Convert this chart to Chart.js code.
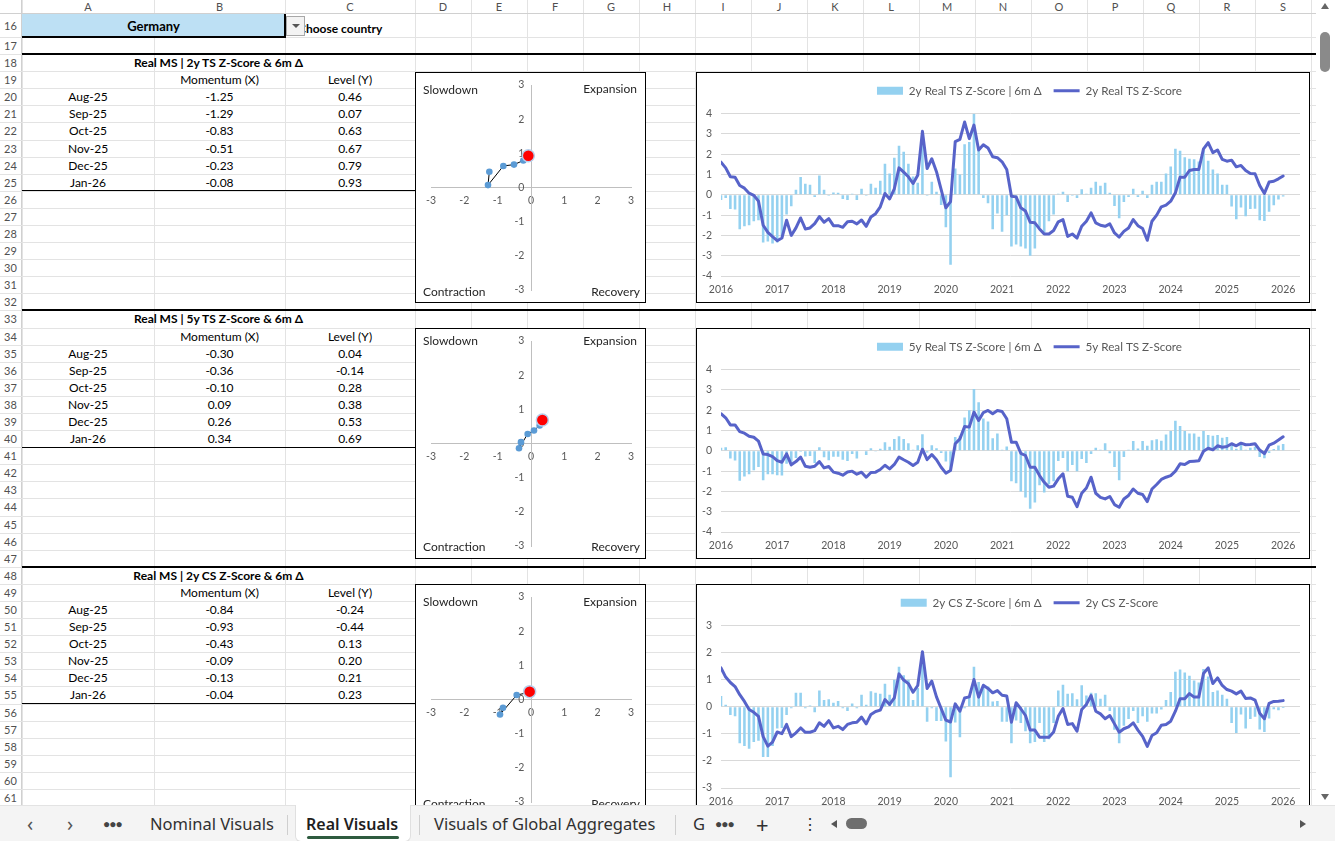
<!DOCTYPE html>
<html>
<head>
<meta charset="utf-8">
<title>Real Visuals</title>
<script src="https://cdn.jsdelivr.net/npm/chart.js@4.4.1/dist/chart.umd.min.js"></script>
<style>
  html, body { margin: 0; padding: 0; }
  body { width: 1335px; height: 841px; overflow: hidden; position: relative; background: #fff;
         font-family: Lato, "Liberation Sans", sans-serif; color: #000; }
  .a { position: absolute; box-sizing: border-box; white-space: nowrap; }
  .chartbox { position: absolute; box-sizing: border-box; border: 1px solid #000; background: #fff; z-index: 3; }
  .inner { position: relative; width: 100%; height: 100%; }
  .quad { position: absolute; font-size: 12px; line-height: 16px; color: #262626; white-space: nowrap; }
  #tabs { position: absolute; left: 0; top: 805px; width: 1335px; height: 36px; background: #f4f4f4;
          border-top: 1px solid #e3e3e3; z-index: 10; font-family: "Noto Sans", sans-serif; color: #303030; }
  #tabs .t { position: absolute; top: 0; height: 36px; line-height: 36px; font-size: 16.5px; white-space: nowrap; }
  #tabs .sep { position: absolute; top: 9px; width: 1px; height: 20px; background: #cfcfcf; }
  #vscroll { position: absolute; left: 1316px; top: 0; width: 19px; height: 805px; background: #fff; z-index: 9; }
</style>
</head>
<body>
<div id="sheet"></div>

<div class="chartbox" style="left:415px;top:72px;width:231px;height:231px"><div class="inner">
  <canvas id="quad1"></canvas>
  <div class="quad" style="left:7px;top:9px">Slowdown</div>
  <div class="quad" style="right:8px;top:8px">Expansion</div>
  <div class="quad" style="left:7px;top:211px">Contraction</div>
  <div class="quad" style="right:5px;top:211px">Recovery</div>
</div></div>
<div class="chartbox" style="left:696px;top:72px;width:614px;height:231px"><div class="inner"><canvas id="ts2y"></canvas></div></div>

<div class="chartbox" style="left:415px;top:328px;width:231px;height:231px"><div class="inner">
  <canvas id="quad2"></canvas>
  <div class="quad" style="left:7px;top:4px">Slowdown</div>
  <div class="quad" style="right:8px;top:4px">Expansion</div>
  <div class="quad" style="left:7px;top:210px">Contraction</div>
  <div class="quad" style="right:5px;top:210px">Recovery</div>
</div></div>
<div class="chartbox" style="left:696px;top:328px;width:614px;height:231px"><div class="inner"><canvas id="ts5y"></canvas></div></div>

<div class="chartbox" style="left:415px;top:584px;width:231px;height:231px"><div class="inner">
  <canvas id="quad3"></canvas>
  <div class="quad" style="left:7px;top:9px">Slowdown</div>
  <div class="quad" style="right:8px;top:9px">Expansion</div>
  <div class="quad" style="left:7px;top:211px">Contraction</div>
  <div class="quad" style="right:5px;top:211px">Recovery</div>
</div></div>
<div class="chartbox" style="left:696px;top:584px;width:614px;height:231px"><div class="inner"><canvas id="cs2y"></canvas></div></div>

<div id="vscroll">
  <div class="a" style="left:5px;top:3px;width:0;height:0;border-left:4px solid transparent;border-right:4px solid transparent;border-bottom:6px solid #666"></div>
  <div class="a" style="left:4px;top:32px;width:10px;height:40px;border-radius:5px;background:#8a8a8a"></div>
  <div class="a" style="left:5px;top:794px;width:0;height:0;border-left:4px solid transparent;border-right:4px solid transparent;border-top:6px solid #666"></div>
</div>

<div id="tabs">
  <div class="t" style="left:27px;font-size:20px;color:#555">&lsaquo;</div>
  <div class="t" style="left:67px;font-size:20px;color:#555">&rsaquo;</div>
  <div class="t" style="left:103px;font-size:12px;letter-spacing:-1px;color:#444">&#9679;&#9679;&#9679;</div>
  <div class="t" style="left:150px">Nominal Visuals</div>
  <div class="sep" style="left:287px"></div>
  <div class="a" style="left:295px;top:-1px;width:116px;height:37px;background:#fff;border:1px solid #e0e0e0;border-top:none;border-radius:0 0 6px 6px"></div>
  <div class="t" style="left:306px;font-weight:600;font-size:16px;color:#1f1f1f">Real Visuals</div>
  <div class="a" style="left:307px;top:30px;width:92px;height:3px;background:#2e5b3f;border-radius:2px"></div>
  <div class="sep" style="left:419px"></div>
  <div class="t" style="left:434px">Visuals of Global Aggregates</div>
  <div class="sep" style="left:675px"></div>
  <div class="t" style="left:693px">G</div>
  <div class="t" style="left:715px;font-size:12px;letter-spacing:-1px;color:#444">&#9679;&#9679;&#9679;</div>
  <div class="t" style="left:756px;font-size:22px">+</div>
  <div class="t" style="left:802px;font-size:16px">&#8942;</div>
  <div class="a" style="left:831px;top:14px;width:0;height:0;border-top:4px solid transparent;border-bottom:4px solid transparent;border-right:6px solid #555"></div>
  <div class="a" style="left:846px;top:12px;width:21px;height:11px;border-radius:6px;background:#6e6e6e"></div>
  <div class="a" style="left:1300px;top:14px;width:0;height:0;border-top:4px solid transparent;border-bottom:4px solid transparent;border-left:6px solid #555"></div>
</div>

<script>
// ---- data ----
const monthNames = ['Jan','Feb','Mar','Apr','May','Jun','Jul','Aug','Sep','Oct','Nov','Dec'];
const categories = [];
for (let y = 2016; y <= 2026; y++) {
  for (let m = 0; m < 12 && categories.length < 121; m++) categories.push(monthNames[m] + '-' + String(y).slice(2));
}

// 2y real TS z-score (line) and its 6m change (bars), Jan-16 .. Jan-26
const ts2Level = [
  1.61, 1.33, 0.89, 0.87, 0.46, 0.33, 0.08, -0.02, -0.31, -1.5,
  -1.85, -2.06, -2.26, -2.13, -1.25, -2.0, -1.63, -1.14, -1.68, -1.63,
  -1.42, -1.07, -1.35, -1.17, -1.52, -1.52, -1.6, -1.33, -1.3, -1.43,
  -1.24, -1.55, -1.09, -0.93, -0.59, 0.07, -0.2, 0.3, 1.33, 1.12,
  0.89, 0.56, 0.96, 3.13, 1.3, 1.78, 1.14, 0.26, -0.64, -0.33,
  2.62, 2.73, 3.59, 2.77, 3.44, 2.21, 2.47, 2.31, 1.88, 1.83,
  1.63, 1.25, -0.07, -0.1, -0.64, -0.8, -1.35, -1.38, -1.68, -1.93,
  -1.93, -1.76, -1.33, -1.22, -2.05, -1.93, -2.13, -1.55, -1.3, -0.89,
  -1.38, -1.5, -1.55, -1.43, -1.88, -2.08, -1.8, -1.63, -1.22, -1.52,
  -1.66, -2.24, -1.3, -1.0, -0.59, -0.51, -0.31, 0.1, 0.87, 0.87,
  1.2, 1.25, 1.25, 2.27, 2.57, 2.08, 2.21, 1.75, 1.66, 1.71,
  1.38, 1.45, 1.2, 1.05, 1.04, 0.46, 0.07, 0.63, 0.67, 0.79,
  0.93
];
const ts2Delta = [
  -0.25, -0.15, -0.7, -0.72, -1.7, -1.55, -1.5, -1.3, -1.25, -2.35,
  -2.3, -2.4, -2.35, -2.05, -0.97, -0.56, 0.25, 0.88, 0.55, 0.5,
  -0.1, 0.95, 0.25, -0.05, 0.12, 0.1, -0.2, -0.25, 0.05, -0.25,
  0.3, -0.05, 0.55, 0.35, 0.7, 1.53, 1.05, 1.83, 2.42, 2.12,
  1.53, 0.9, 0.6, 3.1, -0.05, 0.65, 0.15, -0.5, -1.6, -3.45,
  1.3, 1.0, 2.5, 2.6, 4.0, 2.3, -0.15, -0.42, -1.7, -0.92,
  -1.82, -1.0, -2.55, -2.45, -2.55, -2.65, -3.0, -2.65, -1.6, -1.85,
  -1.3, -0.97, 0.05, 0.15, -0.35, -0.05, -0.15, 0.27, 0.05, 0.35,
  0.65, 0.45, 0.6, 0.1, -0.55, -1.15, -0.35, -0.1, 0.3, -0.1,
  0.2, -0.15, 0.5, 0.65, 0.65, 1.05, 1.4, 2.27, 2.17, 1.85,
  1.78, 1.75, 1.65, 2.2, 1.68, 1.25, 1.05, 0.5, 0.5, -0.58,
  -1.2, -0.62, -1.05, -0.7, -0.68, -1.25, -1.29, -0.83, -0.51, -0.23,
  -0.08
];

// 5y real TS z-score
const ts5Level = [
  1.83, 1.63, 1.28, 1.28, 0.95, 0.87, 0.72, 0.67, 0.48, -0.15,
  -0.18, -0.28, -0.48, -0.56, -0.15, -0.69, -0.53, -0.31, -0.76, -0.81,
  -0.76, -0.53, -0.84, -0.77, -1.05, -1.1, -1.2, -1.04, -1.0, -1.15,
  -1.05, -1.3, -1.07, -1.05, -0.92, -0.71, -0.89, -0.67, -0.31, -0.44,
  -0.56, -0.72, -0.56, 0.08, -0.43, -0.18, -0.44, -0.81, -1.1, -0.97,
  0.35, 0.59, 1.2, 1.17, 1.91, 1.5, 1.89, 1.99, 1.83, 1.99,
  1.94, 1.58, 0.43, 0.43, -0.12, -0.23, -0.81, -0.81, -1.22, -1.55,
  -1.79, -1.74, -1.38, -1.13, -2.24, -2.29, -2.75, -2.09, -1.83, -1.3,
  -2.09, -2.29, -2.37, -2.25, -2.65, -2.78, -2.37, -2.2, -1.88, -2.09,
  -2.15, -2.5, -1.88, -1.66, -1.41, -1.3, -1.22, -1.0, -0.64, -0.67,
  -0.53, -0.51, -0.49, -0.02, 0.13, 0.05, 0.25, 0.18, 0.21, 0.35,
  0.25, 0.38, 0.3, 0.31, 0.35, 0.04, -0.14, 0.28, 0.38, 0.53,
  0.69
];
const ts5Delta = [
  0.15, 0.18, -0.38, -0.48, -1.47, -1.27, -1.15, -0.96, -0.8, -1.45,
  -1.15, -1.15, -1.2, -1.22, -0.63, -0.54, -0.35, -0.05, -0.28, -0.25,
  -0.6, 0.18, -0.31, -0.46, -0.29, -0.29, -0.44, -0.5, -0.16, -0.38,
  -0.02, -0.2, 0.13, -0.03, 0.1, 0.42, 0.2, 0.58, 0.72, 0.58,
  0.38, 0.05, 0.28, 0.82, -0.08, 0.28, 0.13, -0.1, -0.52, -1.0,
  0.68, 0.75, 1.65, 2.0, 3.05, 2.4, 1.6, 1.45, 0.62, 0.85,
  0.05, 0.22, -1.5, -1.6, -2.0, -2.3, -2.85, -2.55, -1.7, -2.05,
  -1.65, -1.5, -0.5, -0.35, -1.0, -0.7, -1.0, -0.4, -0.6, -0.15,
  0.15, 0.05, 0.38, -0.12, -0.8, -1.45, -0.3, 0.05, 0.48, 0.12,
  0.48, 0.25, 0.52, 0.57, 0.5, 0.8, 0.98, 1.48, 1.22, 0.98,
  0.85, 0.85, 0.7, 0.98, 0.78, 0.75, 0.78, 0.65, 0.68, 0.35,
  0.1, 0.35, 0.05, 0.15, 0.2, -0.30, -0.36, -0.10, 0.09, 0.26,
  0.34
];

// 2y CS z-score
const cs2Level = [
  1.44, 1.1, 0.9, 0.75, 0.45, 0.2, -0.1, -0.2, -0.35, -1.1,
  -1.45, -1.3, -0.93, -0.99, -0.65, -1.1, -0.96, -0.78, -0.94, -0.94,
  -0.88, -0.59, -0.72, -0.51, -0.78, -0.72, -0.84, -0.65, -0.59, -0.57,
  -0.38, -0.63, -0.28, -0.17, -0.12, 0.27, 0.09, 0.33, 1.22, 0.99,
  0.86, 0.54, 0.79, 2.04, 0.68, 0.95, 0.37, -0.06, -0.49, -0.56,
  0.11, -0.16, 0.33, 0.37, 1.01, 0.36, 0.8, 0.68, 0.52, 0.6,
  0.43, 0.4, -0.57, 0.15, -0.07, -0.32, -0.86, -0.86, -1.12, -1.12,
  -1.12, -0.93, -0.35, -0.06, -0.65, -0.62, -0.9, -0.1, 0.09, 0.42,
  -0.16, -0.26, -0.44, -0.32, -0.63, -0.94, -0.81, -0.74, -0.59, -0.86,
  -1.09, -1.46, -1.06, -0.96, -0.68, -0.65, -0.53, -0.16, 0.3, 0.3,
  0.49, 0.36, 0.36, 1.23, 1.44, 0.86, 1.07, 0.79, 0.64, 0.58,
  0.48, 0.58, 0.31, 0.33, 0.25, -0.24, -0.44, 0.13, 0.20, 0.21,
  0.23
];
const cs2Delta = [
  0.4, 0.08, -0.3, -0.35, -1.35, -1.45, -1.55, -1.3, -1.25, -1.85,
  -1.85, -1.45, -0.8, -0.78, -0.3, -0.05, 0.52, 0.52, -0.05, 0.05,
  -0.2, 0.6, 0.25, 0.28, 0.15, 0.22, -0.05, -0.15, 0.12, -0.05,
  0.45, 0.08, 0.58, 0.52, 0.48, 0.85, 0.45, 1.0, 1.48, 1.17,
  1.0, 0.25, 0.7, 1.65, -0.55, -0.05, -0.52, -0.52, -1.28, -2.6,
  -0.58, -1.12, -0.05, 0.4, 1.48, 0.92, 0.8, 0.75, 0.2, 0.22,
  -0.55, -0.55, -1.35, -0.5, -0.6, -0.9, -1.35, -1.3, -0.6, -1.3,
  -1.2, -0.6, 0.6, 0.82, 0.48, 0.5, 0.28, 0.8, 0.42, 0.52,
  0.5, 0.3, 0.45, -0.15, -0.85, -1.35, -0.7, -0.45, -0.15, -0.6,
  -0.35, -0.55, -0.25, -0.25, -0.1, 0.25, 0.55, 1.3, 1.38, 1.27,
  1.15, 0.97, 0.9, 1.4, 1.12, 0.55, 0.6, 0.45, 0.3, -0.6,
  -0.97, -0.28, -0.8, -0.45, -0.37, -0.84, -0.93, -0.43, -0.09, -0.13,
  -0.04
];

// the small tables (last six months)
const tableMonths = ['Aug-25', 'Sep-25', 'Oct-25', 'Nov-25', 'Dec-25', 'Jan-26'];
const ts2Momentum = [-1.25, -1.29, -0.83, -0.51, -0.23, -0.08];
const ts2LevelTbl = [0.46, 0.07, 0.63, 0.67, 0.79, 0.93];
const ts5Momentum = [-0.30, -0.36, -0.10, 0.09, 0.26, 0.34];
const ts5LevelTbl = [0.04, -0.14, 0.28, 0.38, 0.53, 0.69];
const cs2Momentum = [-0.84, -0.93, -0.43, -0.09, -0.13, -0.04];
const cs2LevelTbl = [-0.24, -0.44, 0.13, 0.20, 0.21, 0.23];

const FONT = 'Lato, "Liberation Sans", sans-serif';
const BAR_BLUE = '#94d1f0';
const LINE_BLUE = '#5763c9';

// ---- spreadsheet background ----
const sheet = document.getElementById('sheet');
function put(style, text) {
  const d = document.createElement('div');
  d.className = 'a';
  d.setAttribute('style', style);
  if (text !== undefined) d.textContent = text;
  sheet.appendChild(d);
  return d;
}
const colEdges = [22, 154, 285, 415];
for (let k = 1; k <= 16; k++) colEdges.push(415 + 56 * k);
const colNames = 'ABCDEFGHIJKLMNOPQRS'.split('');
function rowTop(r) { return r === 16 ? 14 : 37 + (r - 17) * 17.09; }

colEdges.forEach(x => put(`left:${x}px;top:0;width:1px;height:806px;background:#e3e3e3`));
put('left:0;top:13px;width:1316px;height:1px;background:#d0d0d0');
put('left:21px;top:0;width:1px;height:806px;background:#d0d0d0');
colNames.forEach((c, i) => put(`left:${colEdges[i]}px;top:0;width:${colEdges[i + 1] - colEdges[i]}px;height:13px;font-size:11px;line-height:14px;text-align:center;color:#505050`, c));
for (let r = 16; r <= 61; r++) {
  const t = rowTop(r), h = r === 16 ? 23 : 17.09;
  put(`left:0;top:${t + h}px;width:1316px;height:1px;background:#e3e3e3`);
  put(`left:0;top:${t}px;width:21px;height:${h}px;font-size:11px;line-height:${h + 1}px;text-align:center;color:#505050`, String(r));
}

// row 16: country selector
put('left:22px;top:14px;width:263px;height:23px;background:#bde0f4');
put('left:22px;top:14px;width:263px;height:23px;font-size:13px;font-weight:700;line-height:25px;text-align:center', 'Germany');
put('left:22px;top:36px;width:264px;height:2px;background:#000');
put('left:284px;top:14px;width:2px;height:24px;background:#000');
put('left:298px;top:14px;height:23px;font-size:12px;font-weight:700;line-height:29px', 'Choose country');
put('left:286px;top:16px;width:19px;height:20px;background:#f3f3f3;border:1px solid #a8a8a8');
put('left:292px;top:24px;width:0;height:0;border-left:4px solid transparent;border-right:4px solid transparent;border-top:4px solid #555');

// tables
function section(firstRow, title, momentum, level) {
  const cell = (r, left, width, text, bold) =>
    put(`left:${left}px;top:${rowTop(r)}px;width:${width}px;height:17px;font-size:12px;line-height:18px;text-align:center;` +
        (bold ? 'font-weight:700' : ''), text);
  put(`left:22px;top:${rowTop(firstRow) - 1}px;width:1294px;height:2px;background:#000`);
  cell(firstRow, 22, 393, title, true);
  cell(firstRow + 1, 154, 131, 'Momentum (X)');
  cell(firstRow + 1, 285, 130, 'Level (Y)');
  tableMonths.forEach((m, i) => {
    cell(firstRow + 2 + i, 22, 132, m);
    cell(firstRow + 2 + i, 154, 131, momentum[i].toFixed(2));
    cell(firstRow + 2 + i, 285, 130, level[i].toFixed(2));
  });
  put(`left:22px;top:${rowTop(firstRow + 8) - 0.5}px;width:393px;height:1px;background:#000`);
}
section(18, 'Real MS | 2y TS Z-Score & 6m Δ', ts2Momentum, ts2LevelTbl);
section(33, 'Real MS | 5y TS Z-Score & 6m Δ', ts5Momentum, ts5LevelTbl);
section(48, 'Real MS | 2y CS Z-Score & 6m Δ', cs2Momentum, cs2LevelTbl);

// ---- charts ----
Chart.defaults.font.family = FONT;

const legendSpacer = {
  id: 'legendSpacer',
  beforeInit(chart) {
    const fit = chart.legend.fit;
    chart.legend.fit = function () { fit.call(this); this.height += 7; };
  },
  afterLayout(chart) {
    chart.legend.left += 31;
    chart.legend.right += 31;
  }
};

function tsChart(canvasId, barLabel, lineLabel, deltas, levels, lim) {
  return new Chart(document.getElementById(canvasId), {
    data: {
      labels: categories,
      datasets: [
        {
          type: 'bar', label: barLabel,
          data: deltas.map((v, i) => ({ x: i, y: v })),
          backgroundColor: BAR_BLUE, borderWidth: 0,
          barPercentage: 0.55, categoryPercentage: 1,
          pointStyle: 'rect', order: 2
        },
        {
          type: 'line', label: lineLabel,
          data: levels.map((v, i) => ({ x: i, y: v })),
          borderColor: LINE_BLUE, backgroundColor: LINE_BLUE, borderWidth: 3,
          borderJoinStyle: 'round', borderCapStyle: 'round',
          pointRadius: 0, tension: 0, pointStyle: 'line', order: 1
        }
      ]
    },
    options: {
      responsive: true,
      maintainAspectRatio: false,
      animation: false,
      layout: { padding: { top: 0, right: 9, bottom: 0, left: 0 } },
      plugins: {
        legend: {
          position: 'top',
          labels: {
            usePointStyle: true, pointStyleWidth: 26, boxHeight: 8, padding: 12,
            color: '#595959', font: { size: 11.7, family: FONT },
            sort: (a, b) => a.datasetIndex - b.datasetIndex
          }
        },
        tooltip: { enabled: false }
      },
      scales: {
        x: {
          type: 'linear', min: 0, max: 123.6, offset: false,
          grid: { display: false, drawTicks: false },
          border: { display: false },
          ticks: {
            stepSize: 12, autoSkip: false, maxRotation: 0, includeBounds: false, padding: 7,
            color: '#595959', font: { size: 10.5, family: FONT },
            callback: v => (v % 12 === 0 ? String(2016 + v / 12) : '')
          },
          afterFit: s => { s.height = 26; }
        },
        y: {
          min: -lim, max: lim,
          grid: { color: '#d9d9d9', drawTicks: false },
          border: { display: false },
          ticks: { stepSize: 1, padding: 9, color: '#595959', font: { size: 10.5, family: FONT } },
          afterFit: s => { s.width = 24; }
        }
      }
    },
    plugins: [legendSpacer]
  });
}

function quadChart(canvasId, xs, ys) {
  const last = xs.length - 1;
  return new Chart(document.getElementById(canvasId), {
    type: 'scatter',
    data: {
      datasets: [{
        data: xs.map((x, i) => ({ x: x, y: ys[i] })),
        showLine: true, borderColor: '#000', borderWidth: 1, tension: 0,
        pointRadius: xs.map((x, i) => (i === last ? 6 : 3.3)),
        pointBackgroundColor: xs.map((x, i) => (i === last ? '#ff0000' : '#5b9bd5')),
        pointBorderColor: xs.map((x, i) => (i === last ? '#b7cfec' : '#5b9bd5')),
        pointBorderWidth: xs.map((x, i) => (i === last ? 1.5 : 0))
      }]
    },
    options: {
      responsive: true,
      maintainAspectRatio: false,
      animation: false,
      layout: { padding: { left: 15, right: 14, top: 12, bottom: 12 } },
      plugins: { legend: { display: false }, tooltip: { enabled: false } },
      scales: {
        x: {
          type: 'linear', position: { y: 0 }, min: -3, max: 3,
          grid: { display: false, drawTicks: false },
          border: { color: '#bfbfbf' },
          ticks: { stepSize: 1, padding: 7, color: '#595959', font: { size: 10.5, family: FONT } }
        },
        y: {
          type: 'linear', position: { x: 0 }, min: -3, max: 3,
          grid: { display: false, drawTicks: false },
          border: { color: '#bfbfbf' },
          ticks: {
            stepSize: 1, color: '#595959', font: { size: 10.5, family: FONT },
            callback: v => String(v) + '\u2002\u2009'
          }
        }
      }
    }
  });
}

quadChart('quad1', ts2Momentum, ts2LevelTbl);
quadChart('quad2', ts5Momentum, ts5LevelTbl);
quadChart('quad3', cs2Momentum, cs2LevelTbl);

tsChart('ts2y', '2y Real TS Z-Score | 6m Δ', '2y Real TS Z-Score', ts2Delta, ts2Level, 4);
tsChart('ts5y', '5y Real TS Z-Score | 6m Δ', '5y Real TS Z-Score', ts5Delta, ts5Level, 4);
tsChart('cs2y', '2y CS Z-Score | 6m Δ', '2y CS Z-Score', cs2Delta, cs2Level, 3);
</script>
</body>
</html>
